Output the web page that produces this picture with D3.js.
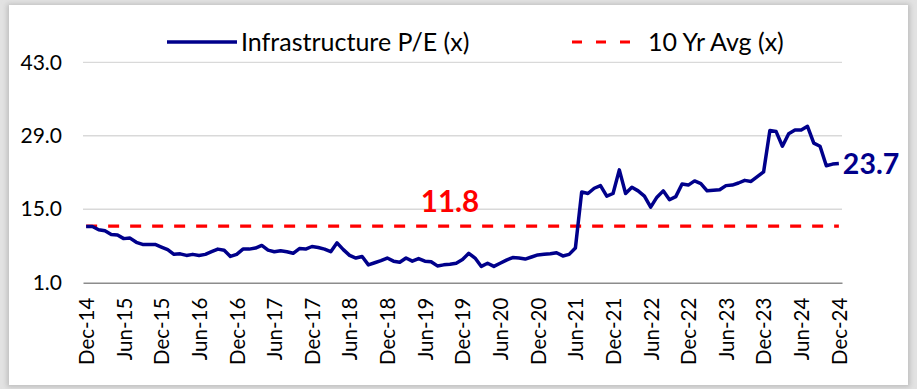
<!DOCTYPE html>
<html>
<head>
<meta charset="utf-8">
<script src="https://cdn.jsdelivr.net/npm/d3@7"></script>
<style>
  html, body { margin: 0; padding: 0; background: #e2e2e2; }
  svg { display: block; }
  text { font-family: Lato, "Open Sans", sans-serif; }
</style>
</head>
<body>
<svg id="chart" width="917" height="389"></svg>
<script>
// Monthly infrastructure sector P/E, Dec-2014 .. Dec-2024
const peValues = [
  11.7, 11.7, 11.1, 10.9, 10.2, 10.1, 9.4, 9.5, 8.7, 8.3, 8.3, 8.3,
  7.8, 7.3, 6.4, 6.5, 6.2, 6.4, 6.2, 6.4, 6.9, 7.4, 7.2, 6.0,
  6.4, 7.4, 7.4, 7.6, 8.1, 7.2, 6.9, 7.1, 6.9, 6.6, 7.5, 7.4,
  7.9, 7.7, 7.4, 6.9, 8.6, 7.3, 6.2, 5.7, 6.0, 4.4, 4.8, 5.2,
  5.7, 5.1, 4.9, 5.7, 5.1, 5.6, 5.1, 5.0, 4.2, 4.4, 4.5, 4.7,
  5.4, 6.6, 5.7, 4.1, 4.7, 4.1, 4.7, 5.3, 5.8, 5.7, 5.5, 5.9,
  6.3, 6.4, 6.5, 6.7, 6.1, 6.4, 7.6, 18.3, 18.0, 19.0, 19.5, 17.5,
  18.0, 22.5, 18.0, 19.2, 18.5, 17.5, 15.4, 17.3, 18.5, 16.8, 17.4, 19.8,
  19.6, 20.4, 19.9, 18.5, 18.6, 18.7, 19.5, 19.6, 20.0, 20.5, 20.3, 21.2,
  22.1, 30.0, 29.8, 27.0, 29.4, 30.1, 30.1, 30.8, 27.6, 27.0, 23.3, 23.6,
  23.7
];
const avgValue = 11.8;
const tickLabels = [
  "Dec-14", "Jun-15", "Dec-15", "Jun-16", "Dec-16", "Jun-17", "Dec-17",
  "Jun-18", "Dec-18", "Jun-19", "Dec-19", "Jun-20", "Dec-20", "Jun-21",
  "Dec-21", "Jun-22", "Dec-22", "Jun-23", "Dec-23", "Jun-24", "Dec-24"
];
const yTicks = [1, 15, 29, 43];
const seriesNames = ["Infrastructure P/E (x)", "10 Yr Avg (x)"];

const lineColor = "#00008B";
const avgColor = "#FF0000";

const svg = d3.select("#chart");

// soft panel shadow
const defs = svg.append("defs");
const blur = defs.append("filter").attr("id", "soft")
  .attr("x", "-5%").attr("y", "-5%").attr("width", "110%").attr("height", "110%");
blur.append("feGaussianBlur").attr("stdDeviation", 2.5);

svg.append("rect").attr("x", 7).attr("y", 4).attr("width", 903).attr("height", 383)
  .attr("fill", "#bdbdbd").attr("filter", "url(#soft)");
svg.append("rect").attr("x", 9).attr("y", 5).attr("width", 899).attr("height", 380)
  .attr("fill", "#ffffff");

const plotLeft = 83, plotRight = 842, plotTop = 62.3, plotBottom = 282.7;

const x = d3.scalePoint()
  .domain(d3.range(peValues.length))
  .range([plotLeft, plotRight])
  .padding(0.5);

const y = d3.scaleLinear().domain([1, 43]).range([plotBottom, plotTop]);

// horizontal gridlines
svg.append("g").selectAll("line")
  .data(yTicks.filter(t => t !== 1))
  .join("line")
  .attr("x1", plotLeft).attr("x2", plotRight)
  .attr("y1", d => y(d)).attr("y2", d => y(d))
  .attr("stroke", "#d9d9d9").attr("stroke-width", 1.3);

// y axis labels
const yAxis = svg.append("g")
  .attr("transform", `translate(${plotLeft},0)`)
  .call(d3.axisLeft(y).tickValues(yTicks).tickFormat(d3.format(".1f")).tickSize(0).tickPadding(21));
yAxis.select(".domain").remove();
yAxis.selectAll("text")
  .attr("font-size", 21).attr("fill", "#000")
  .style("font-family", "Lato, 'Open Sans', sans-serif");

// x axis
const tickIdx = d3.range(0, peValues.length, 6);
const xAxis = svg.append("g")
  .attr("transform", `translate(0,${plotBottom})`)
  .call(d3.axisBottom(x).tickValues(tickIdx).tickFormat(i => tickLabels[i / 6]).tickSize(0).tickSizeOuter(0));
xAxis.select(".domain").attr("stroke", "#8c8c8c").attr("stroke-width", 1.5);
xAxis.selectAll("text")
  .attr("transform", "rotate(-90)")
  .attr("x", -15).attr("y", 0).attr("dy", "0.36em")
  .style("text-anchor", "end")
  .attr("font-size", 20.5).attr("fill", "#000")
  .style("font-family", "Lato, 'Open Sans', sans-serif");

// 10-year average
svg.append("line")
  .attr("x1", x(0)).attr("x2", x(peValues.length - 1))
  .attr("y1", y(avgValue)).attr("y2", y(avgValue))
  .attr("stroke", avgColor).attr("stroke-width", 3.2)
  .attr("stroke-dasharray", "11,11");

// P/E line
const line = d3.line().x((d, i) => x(i)).y(d => y(d));
svg.append("path").datum(peValues)
  .attr("d", line)
  .attr("fill", "none")
  .attr("stroke", lineColor).attr("stroke-width", 3.5)
  .attr("stroke-linejoin", "round");

// value labels
svg.append("text")
  .attr("x", x(58)).attr("y", y(avgValue) - 14)
  .attr("text-anchor", "middle")
  .attr("font-size", 29.5).attr("font-weight", "bold")
  .attr("fill", avgColor)
  .text(avgValue.toFixed(1));

const last = peValues.length - 1;
svg.append("text")
  .attr("x", x(last) + 4).attr("y", y(peValues[last]))
  .attr("dy", "0.36em")
  .attr("font-size", 28.5).attr("font-weight", "bold")
  .attr("fill", lineColor)
  .text(peValues[last].toFixed(1));

// legend
const lg = svg.append("g");
lg.append("line").attr("x1", 167).attr("x2", 237).attr("y1", 42).attr("y2", 42)
  .attr("stroke", lineColor).attr("stroke-width", 3.5);
lg.append("text").attr("x", 241).attr("y", 42).attr("dy", "0.36em")
  .attr("font-size", 25).attr("fill", "#000").text(seriesNames[0]);
lg.append("line").attr("x1", 572).attr("x2", 632).attr("y1", 42).attr("y2", 42)
  .attr("stroke", avgColor).attr("stroke-width", 3.2).attr("stroke-dasharray", "10,14");
lg.append("text").attr("x", 648).attr("y", 42).attr("dy", "0.36em")
  .attr("font-size", 25).attr("fill", "#000").text(seriesNames[1]);
</script>
</body>
</html>
